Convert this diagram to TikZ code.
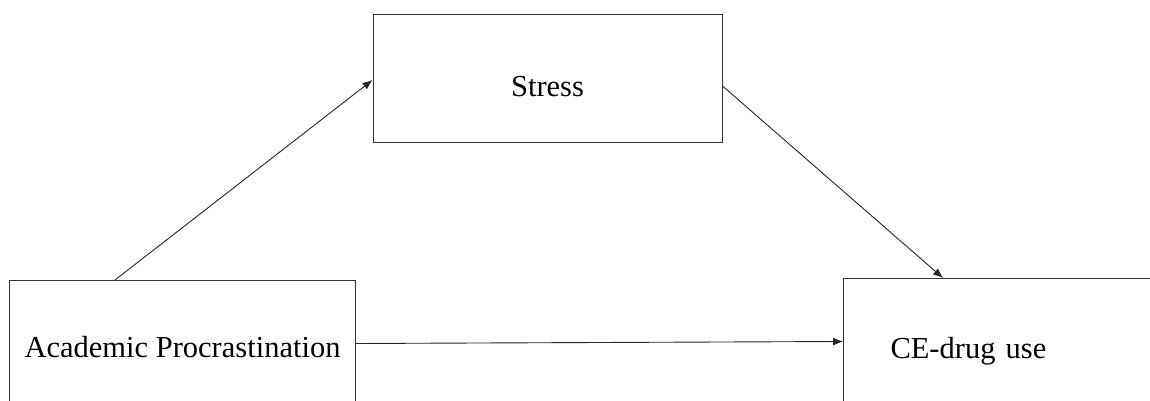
\documentclass[tikz,border=0pt]{standalone}
\usepackage{fontspec}
\setmainfont{Liberation Serif}
\usetikzlibrary{arrows.meta}
\begin{document}
\begin{tikzpicture}[x=1pt,y=-1pt,
  box/.style={draw=black!80, line width=1pt, rectangle, inner sep=0pt, font=\fontsize{30.5}{36}\selectfont},
  conn/.style={draw=black!85, line width=0.9pt, -{Latex[length=10pt,width=8pt]}}]
\useasboundingbox (0,0) rectangle (1150,401);
\clip (0,0) rectangle (1150,401);
\fill[white] (0,0) rectangle (1150,401);
\node[box, minimum width=349pt, minimum height=127pt, text height=40pt, text depth=3pt] (stress) at (547.5,78.5) {Stress};
\node[box, minimum width=346pt, minimum height=134pt, text height=24pt, text depth=4pt, anchor=north west] (ap) at (9,280) {Academic Procrastination};
\node[box, anchor=north west, minimum height=134pt, inner xsep=47pt, text width=226pt, align=left, text height=30pt, text depth=4pt] (ce) at (843,278) {CE-drug use};
\draw[conn] ([xshift=106pt]ap.north west) -- ([yshift=-1.5pt]stress.west);
\draw[conn] ([yshift=-7.5pt]stress.east) -- ([xshift=100pt]ce.north west);
\draw[conn] ([yshift=4pt]ap.east) -- ([yshift=4pt]ce.west);
\end{tikzpicture}
\end{document}
